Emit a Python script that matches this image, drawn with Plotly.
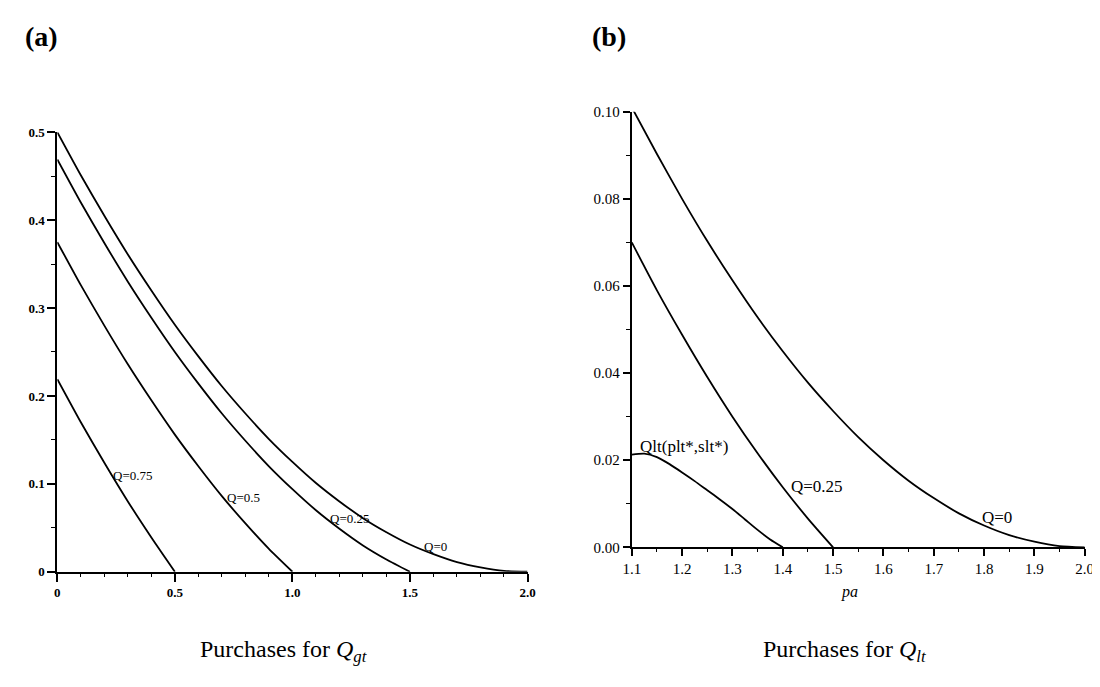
import plotly.graph_objects as go

# ---------------- data: panel (a) Purchases for Q_gt ----------------
pa_a_q0 = [0.0, 0.1, 0.2, 0.3, 0.4, 0.5, 0.6, 0.7, 0.8, 0.9, 1.0, 1.1, 1.2, 1.3, 1.4, 1.5, 1.6, 1.7, 1.8, 1.9, 2.0]
q0_a = [0.500, 0.451, 0.405, 0.361, 0.320, 0.281, 0.245, 0.211, 0.180, 0.151, 0.125, 0.101, 0.080, 0.061, 0.045, 0.031, 0.020, 0.011, 0.005, 0.001, 0.000]
pa_a_q25 = [0.0, 0.1, 0.2, 0.3, 0.4, 0.5, 0.6, 0.7, 0.8, 0.9, 1.0, 1.1, 1.2, 1.3, 1.4, 1.5]
q25_a = [0.469, 0.420, 0.374, 0.330, 0.289, 0.250, 0.214, 0.180, 0.149, 0.120, 0.094, 0.070, 0.049, 0.030, 0.014, 0.000]
pa_a_q50 = [0.0, 0.1, 0.2, 0.3, 0.4, 0.5, 0.6, 0.7, 0.8, 0.9, 1.0]
q50_a = [0.375, 0.326, 0.280, 0.236, 0.195, 0.156, 0.120, 0.086, 0.055, 0.026, 0.000]
pa_a_q75 = [0.0, 0.1, 0.2, 0.3, 0.4, 0.5]
q75_a = [0.219, 0.170, 0.124, 0.080, 0.039, 0.000]

# ---------------- data: panel (b) Purchases for Q_lt ----------------
pa_b_q0 = [1.10, 1.15, 1.20, 1.25, 1.30, 1.35, 1.40, 1.45, 1.50, 1.55, 1.60, 1.65, 1.70, 1.75, 1.80, 1.85, 1.90, 1.95, 2.00]
q0_b = [0.1010, 0.0903, 0.0800, 0.0703, 0.0613, 0.0528, 0.0450, 0.0378, 0.0313, 0.0253, 0.0200, 0.0153, 0.0113, 0.0078, 0.0050, 0.0028, 0.0013, 0.0003, 0.0000]
pa_b_q25 = [1.10, 1.15, 1.20, 1.25, 1.30, 1.35, 1.40, 1.45, 1.50]
q25_b = [0.0700, 0.0590, 0.0488, 0.0391, 0.0300, 0.0216, 0.0138, 0.0066, 0.0000]
pa_b_qlt = [1.10, 1.125, 1.15, 1.175, 1.20, 1.225, 1.25, 1.275, 1.30, 1.325, 1.35, 1.375, 1.40]
qlt_b = [0.0213, 0.0215, 0.0207, 0.0191, 0.0172, 0.0152, 0.0131, 0.0110, 0.0088, 0.0064, 0.0040, 0.0018, 0.0000]

# tick labels
a_xticks = [0, 0.5, 1.0, 1.5, 2.0]
a_xtext = ["0", "0.5", "1.0", "1.5", "2.0"]
a_yticks = [0, 0.1, 0.2, 0.3, 0.4, 0.5]
a_ytext = ["0", "0.1", "0.2", "0.3", "0.4", "0.5"]
b_xticks = [1.1, 1.2, 1.3, 1.4, 1.5, 1.6, 1.7, 1.8, 1.9, 2.0]
b_xtext = ["1.1", "1.2", "1.3", "1.4", "1.5", "1.6", "1.7", "1.8", "1.9", "2.0"]
b_yticks = [0.0, 0.02, 0.04, 0.06, 0.08, 0.10]
b_ytext = ["0.00", "0.02", "0.04", "0.06", "0.08", "0.10"]

# curve labels (text, x, y)
a_labels = [("Q=0.75", 0.23, 0.110), ("Q=0.5", 0.712, 0.084), ("Q=0.25", 1.15, 0.061), ("Q=0", 1.552, 0.029)]
b_labels = [("Qlt(plt*,slt*)", 1.112, 0.0232), ("Q=0.25", 1.412, 0.0139), ("Q=0", 1.792, 0.0069)]

W, H = 1100, 687
SERIF = "Liberation Serif, Times New Roman, serif"

fig = go.Figure()
line = dict(color="black", width=1.8, shape="spline", smoothing=0.6)
for xs, ys in [(pa_a_q0, q0_a), (pa_a_q25, q25_a), (pa_a_q50, q50_a), (pa_a_q75, q75_a)]:
    fig.add_trace(go.Scatter(x=xs, y=ys, mode="lines", line=line, xaxis="x", yaxis="y",
                             showlegend=False, hoverinfo="skip"))
for xs, ys in [(pa_b_q0, q0_b), (pa_b_q25, q25_b), (pa_b_qlt, qlt_b)]:
    fig.add_trace(go.Scatter(x=xs, y=ys, mode="lines", line=line, xaxis="x2", yaxis="y2",
                             showlegend=False, hoverinfo="skip"))

def px_x(p):
    return p / W

def px_y(p):
    return (H - p) / H

axis_common = dict(showline=True, linecolor="black", linewidth=2, showgrid=False, zeroline=False,
                   ticks="outside", tickcolor="black", tickwidth=1.5, tickmode="array")

fig.update_layout(
    width=W, height=H, margin=dict(l=0, r=0, t=0, b=0),
    plot_bgcolor="white", paper_bgcolor="white",
    xaxis=dict(axis_common, domain=[px_x(41), px_x(519)], range=[0, 2.0], anchor="y",
               tickvals=a_xticks, ticktext=a_xtext, ticklen=8,
               tickfont=dict(family=SERIF, size=13, color="black", weight="bold"),
               minor=dict(ticks="outside", ticklen=3, tickcolor="black", tickwidth=1, dtick=0.1, tick0=0)),
    yaxis=dict(axis_common, domain=[px_y(569), px_y(119)], range=[0, 0.5], anchor="x",
               tickvals=a_yticks, ticktext=a_ytext, ticklen=8,
               tickfont=dict(family=SERIF, size=13, color="black", weight="bold"),
               minor=dict(ticks="outside", ticklen=4, tickcolor="black", tickwidth=1, dtick=0.05, tick0=0)),
    xaxis2=dict(axis_common, domain=[px_x(625), px_x(1085.5)], range=[1.1, 2.0], anchor="y2",
                tickvals=b_xticks, ticktext=b_xtext, ticklen=7,
                tickfont=dict(family=SERIF, size=15, color="black"),
                minor=dict(ticks="outside", ticklen=3, tickcolor="black", tickwidth=1, dtick=0.05, tick0=1.1)),
    yaxis2=dict(axis_common, domain=[px_y(544), px_y(98)], range=[0, 0.1], anchor="x2",
                tickvals=b_yticks, ticktext=b_ytext, ticklen=7,
                tickfont=dict(family=SERIF, size=15, color="black"),
                minor=dict(ticks="outside", ticklen=4, tickcolor="black", tickwidth=1, dtick=0.01, tick0=0)),
)

anns = []
for t, x, y in a_labels:
    anns.append(dict(text=t, x=x, y=y, xref="x", yref="y", xanchor="left", yanchor="middle",
                     showarrow=False, font=dict(family=SERIF, size=13, color="black")))
for t, x, y in b_labels:
    anns.append(dict(text=t, x=x, y=y, xref="x2", yref="y2", xanchor="left", yanchor="middle",
                     showarrow=False, font=dict(family=SERIF, size=17, color="black")))
# axis title of panel (b)
anns.append(dict(text="<i>pa</i>", x=px_x(846), y=px_y(590), xref="paper", yref="paper",
                 xanchor="center", yanchor="middle", showarrow=False,
                 font=dict(family=SERIF, size=16, color="black")))
# panel tags
anns.append(dict(text="<b>(a)</b>", x=px_x(6), y=px_y(21), xref="paper", yref="paper",
                 xanchor="left", yanchor="middle", showarrow=False,
                 font=dict(family=SERIF, size=28, color="black")))
anns.append(dict(text="<b>(b)</b>", x=px_x(583), y=px_y(21), xref="paper", yref="paper",
                 xanchor="left", yanchor="middle", showarrow=False,
                 font=dict(family=SERIF, size=28, color="black")))
# captions
anns.append(dict(text="Purchases for <i>Q</i><sub><i>gt</i></sub>", x=px_x(271), y=px_y(650),
                 xref="paper", yref="paper", xanchor="center", yanchor="middle", showarrow=False,
                 font=dict(family=SERIF, size=24, color="black")))
anns.append(dict(text="Purchases for <i>Q</i><sub><i>lt</i></sub>", x=px_x(841), y=px_y(650),
                 xref="paper", yref="paper", xanchor="center", yanchor="middle", showarrow=False,
                 font=dict(family=SERIF, size=24, color="black")))
fig.update_layout(annotations=anns)

fig.write_html("out.html")
